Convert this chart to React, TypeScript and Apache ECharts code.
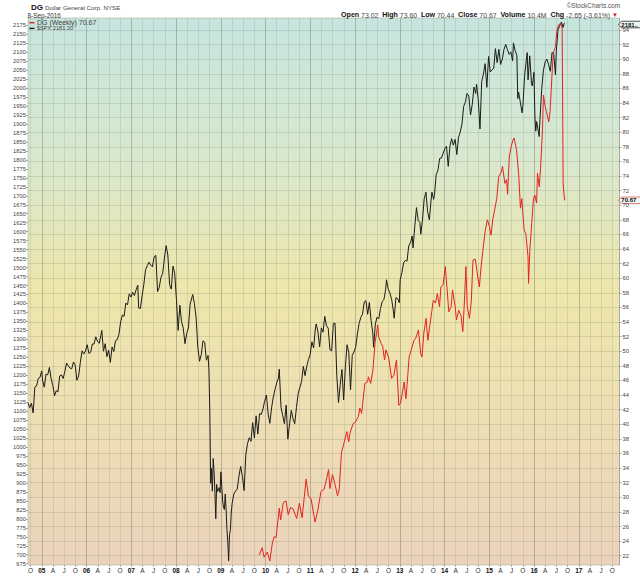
import React, { useEffect, useRef } from "react";
import * as echarts from "echarts";

const FONT = "'Liberation Sans', Arial, sans-serif";

// ---- S&P 500 weekly closes (left axis) ----
const spx2004: [string, number][] = [
  ["2004-09-10", 1123], ["2004-09-24", 1110], ["2004-10-08", 1122], ["2004-10-22", 1095], ["2004-11-05", 1167],
  ["2004-11-19", 1170], ["2004-12-03", 1191], ["2004-12-17", 1194], ["2004-12-31", 1212],
];
const spx2005: [string, number][] = [
  ["2005-01-07", 1186], ["2005-01-21", 1167], ["2005-02-04", 1203], ["2005-02-18", 1201], ["2005-03-04", 1222],
  ["2005-03-18", 1190], ["2005-04-01", 1172], ["2005-04-15", 1143], ["2005-04-29", 1157], ["2005-05-13", 1154],
  ["2005-05-27", 1198], ["2005-06-10", 1201], ["2005-06-24", 1191], ["2005-07-08", 1211], ["2005-07-22", 1234],
  ["2005-08-05", 1226], ["2005-08-19", 1220], ["2005-09-02", 1218], ["2005-09-16", 1237], ["2005-09-30", 1229],
  ["2005-10-14", 1186], ["2005-10-28", 1198], ["2005-11-11", 1235], ["2005-11-25", 1268], ["2005-12-09", 1259],
  ["2005-12-23", 1268],
];
const spx2006: [string, number][] = [
  ["2006-01-06", 1285], ["2006-01-20", 1261], ["2006-02-03", 1264], ["2006-02-17", 1287], ["2006-03-03", 1287],
  ["2006-03-17", 1307], ["2006-03-31", 1295], ["2006-04-14", 1289], ["2006-04-28", 1311], ["2006-05-05", 1325],
  ["2006-05-19", 1267], ["2006-06-02", 1288], ["2006-06-16", 1252], ["2006-06-30", 1270], ["2006-07-14", 1236],
  ["2006-07-28", 1279], ["2006-08-11", 1266], ["2006-08-25", 1296], ["2006-09-08", 1299], ["2006-09-22", 1314],
  ["2006-10-06", 1349], ["2006-10-20", 1368], ["2006-11-03", 1364], ["2006-11-17", 1401], ["2006-12-01", 1396],
  ["2006-12-15", 1427], ["2006-12-29", 1418],
];
const spx2007: [string, number][] = [
  ["2007-01-12", 1431], ["2007-01-26", 1422], ["2007-02-09", 1438], ["2007-02-23", 1451], ["2007-03-02", 1387],
  ["2007-03-16", 1386], ["2007-03-30", 1421], ["2007-04-13", 1453], ["2007-04-27", 1494], ["2007-05-11", 1505],
  ["2007-05-25", 1515], ["2007-06-08", 1507], ["2007-06-22", 1502], ["2007-07-06", 1530], ["2007-07-20", 1534],
  ["2007-08-03", 1433], ["2007-08-17", 1445], ["2007-08-31", 1473], ["2007-09-14", 1484], ["2007-09-28", 1527],
  ["2007-10-12", 1561], ["2007-10-26", 1535], ["2007-11-09", 1453], ["2007-11-23", 1440], ["2007-12-07", 1504],
  ["2007-12-21", 1484],
];
const spx2008: [string, number][] = [
  ["2008-01-04", 1411], ["2008-01-18", 1325], ["2008-02-01", 1395], ["2008-02-15", 1349], ["2008-02-29", 1331],
  ["2008-03-14", 1288], ["2008-03-28", 1316], ["2008-04-11", 1332], ["2008-04-25", 1398], ["2008-05-16", 1425],
  ["2008-05-30", 1400], ["2008-06-13", 1360], ["2008-06-27", 1278], ["2008-07-11", 1239], ["2008-07-25", 1257],
  ["2008-08-08", 1296], ["2008-08-22", 1292], ["2008-09-05", 1242], ["2008-09-19", 1255], ["2008-09-26", 1213],
  ["2008-10-03", 1099], ["2008-10-10", 899], ["2008-10-17", 940], ["2008-10-24", 877], ["2008-10-31", 968],
  ["2008-11-07", 930], ["2008-11-14", 873], ["2008-11-21", 800], ["2008-11-28", 896], ["2008-12-05", 876],
  ["2008-12-12", 879], ["2008-12-19", 887], ["2008-12-26", 873],
];
const spx2009: [string, number][] = [
  ["2009-01-02", 931], ["2009-01-09", 890], ["2009-01-16", 850], ["2009-01-23", 832], ["2009-01-30", 826],
  ["2009-02-06", 869], ["2009-02-13", 827], ["2009-02-20", 770], ["2009-02-27", 735], ["2009-03-06", 683],
  ["2009-03-13", 756], ["2009-03-20", 768], ["2009-03-27", 816], ["2009-04-03", 842], ["2009-04-17", 869],
  ["2009-05-01", 877], ["2009-05-15", 883], ["2009-05-29", 919], ["2009-06-12", 946], ["2009-06-26", 918],
  ["2009-07-10", 879], ["2009-07-24", 979], ["2009-08-07", 1010], ["2009-08-21", 1026], ["2009-09-04", 1016],
  ["2009-09-18", 1068], ["2009-10-02", 1025], ["2009-10-16", 1087], ["2009-10-30", 1036], ["2009-11-13", 1093],
  ["2009-11-27", 1091], ["2009-12-11", 1106], ["2009-12-24", 1127],
];
const spx2010: [string, number][] = [
  ["2010-01-08", 1145], ["2010-01-22", 1092], ["2010-02-05", 1066], ["2010-02-19", 1109], ["2010-03-05", 1139],
  ["2010-03-19", 1160], ["2010-04-02", 1179], ["2010-04-16", 1192], ["2010-04-23", 1217], ["2010-05-07", 1111],
  ["2010-05-21", 1088], ["2010-06-04", 1065], ["2010-06-18", 1117], ["2010-07-02", 1022], ["2010-07-16", 1065],
  ["2010-07-30", 1102], ["2010-08-13", 1079], ["2010-08-27", 1065], ["2010-09-10", 1110], ["2010-09-24", 1149],
  ["2010-10-08", 1166], ["2010-10-22", 1183], ["2010-11-05", 1225], ["2010-11-19", 1199], ["2010-12-03", 1225],
  ["2010-12-17", 1244], ["2010-12-31", 1258],
];
const spx2011: [string, number][] = [
  ["2011-01-14", 1293], ["2011-01-28", 1276], ["2011-02-11", 1329], ["2011-02-18", 1343], ["2011-03-04", 1321],
  ["2011-03-18", 1279], ["2011-04-01", 1332], ["2011-04-15", 1320], ["2011-04-29", 1364], ["2011-05-13", 1338],
  ["2011-05-27", 1331], ["2011-06-10", 1271], ["2011-06-24", 1268], ["2011-07-08", 1344], ["2011-07-22", 1345],
  ["2011-08-05", 1199], ["2011-08-19", 1124], ["2011-09-02", 1174], ["2011-09-16", 1216], ["2011-09-30", 1131],
  ["2011-10-14", 1224], ["2011-10-28", 1285], ["2011-11-11", 1263], ["2011-11-25", 1159], ["2011-12-09", 1255],
  ["2011-12-23", 1265],
];
const spx2012: [string, number][] = [
  ["2012-01-06", 1278], ["2012-01-20", 1315], ["2012-02-03", 1344], ["2012-02-17", 1361], ["2012-03-02", 1370],
  ["2012-03-16", 1404], ["2012-03-30", 1408], ["2012-04-13", 1370], ["2012-04-27", 1403], ["2012-05-11", 1353],
  ["2012-05-25", 1318], ["2012-06-01", 1278], ["2012-06-15", 1343], ["2012-06-29", 1362], ["2012-07-13", 1357],
  ["2012-07-27", 1386], ["2012-08-10", 1405], ["2012-08-24", 1411], ["2012-09-07", 1438], ["2012-09-14", 1466],
  ["2012-09-28", 1441], ["2012-10-12", 1429], ["2012-10-26", 1412], ["2012-11-09", 1380], ["2012-11-16", 1359],
  ["2012-11-30", 1416], ["2012-12-14", 1414], ["2012-12-28", 1402],
];
const spx2013: [string, number][] = [
  ["2013-01-04", 1466], ["2013-01-18", 1486], ["2013-02-01", 1513], ["2013-02-15", 1520], ["2013-03-01", 1518],
  ["2013-03-15", 1561], ["2013-03-29", 1569], ["2013-04-12", 1588], ["2013-04-19", 1555], ["2013-05-03", 1614],
  ["2013-05-17", 1667], ["2013-05-31", 1631], ["2013-06-14", 1626], ["2013-06-21", 1593], ["2013-07-05", 1632],
  ["2013-07-19", 1692], ["2013-08-02", 1710], ["2013-08-16", 1656], ["2013-08-30", 1633], ["2013-09-13", 1688],
  ["2013-09-20", 1710], ["2013-10-04", 1690], ["2013-10-11", 1703], ["2013-10-25", 1759], ["2013-11-08", 1771],
  ["2013-11-22", 1804], ["2013-12-06", 1805], ["2013-12-20", 1818],
];
const spx2014: [string, number][] = [
  ["2014-01-03", 1831], ["2014-01-17", 1838], ["2014-01-31", 1782], ["2014-02-14", 1838], ["2014-02-28", 1859],
  ["2014-03-14", 1841], ["2014-03-28", 1857], ["2014-04-11", 1815], ["2014-04-25", 1863], ["2014-05-09", 1878],
  ["2014-05-23", 1900], ["2014-06-06", 1949], ["2014-06-20", 1962], ["2014-07-03", 1985], ["2014-07-18", 1978],
  ["2014-08-01", 1925], ["2014-08-15", 1955], ["2014-08-29", 2003], ["2014-09-12", 1985], ["2014-09-19", 2011],
  ["2014-10-03", 1967], ["2014-10-17", 1886], ["2014-10-31", 2018], ["2014-11-14", 2039], ["2014-11-28", 2068],
  ["2014-12-12", 2002], ["2014-12-26", 2088],
];
const spx2015: [string, number][] = [
  ["2015-01-09", 2045], ["2015-01-23", 2051], ["2015-02-06", 2055], ["2015-02-20", 2110], ["2015-03-06", 2071],
  ["2015-03-20", 2108], ["2015-04-03", 2066], ["2015-04-17", 2081], ["2015-05-01", 2108], ["2015-05-15", 2122],
  ["2015-05-29", 2107], ["2015-06-12", 2094], ["2015-06-26", 2101], ["2015-07-10", 2076], ["2015-07-17", 2126],
  ["2015-07-31", 2104], ["2015-08-14", 2091], ["2015-08-21", 1971], ["2015-08-28", 1989], ["2015-09-11", 1961],
  ["2015-09-25", 1931], ["2015-10-02", 1951], ["2015-10-16", 2033], ["2015-10-30", 2079], ["2015-11-06", 2099],
  ["2015-11-13", 2023], ["2015-11-27", 2090], ["2015-12-11", 2012], ["2015-12-18", 2006], ["2015-12-31", 2044],
];
const spx2016: [string, number][] = [
  ["2016-01-08", 1922], ["2016-01-15", 1880], ["2016-01-22", 1907], ["2016-02-05", 1880], ["2016-02-12", 1865],
  ["2016-02-19", 1917], ["2016-03-04", 1999], ["2016-03-18", 2050], ["2016-04-01", 2073], ["2016-04-15", 2081],
  ["2016-04-29", 2065], ["2016-05-13", 2047], ["2016-05-27", 2099], ["2016-06-10", 2096], ["2016-06-24", 2037],
  ["2016-07-01", 2103], ["2016-07-15", 2162], ["2016-07-29", 2174], ["2016-08-12", 2184], ["2016-08-26", 2169],
  ["2016-09-02", 2180], ["2016-09-08", 2181.3],
];

// ---- Dollar General weekly closes (right axis) ----
const dg2009: [string, number][] = [["2009-11-10", 22.1], ["2009-12-05", 23.1], ["2009-12-20", 21.8]];
const dg2010: [string, number][] = [
  ["2010-01-15", 22.5], ["2010-02-05", 21.3], ["2010-02-27", 23.9], ["2010-03-14", 24.6], ["2010-03-28", 24.5],
  ["2010-04-23", 28.5], ["2010-05-04", 26.9], ["2010-05-26", 29.3], ["2010-06-17", 29.5], ["2010-07-05", 27.6],
  ["2010-07-23", 28.6], ["2010-08-14", 28.4], ["2010-09-12", 27.1], ["2010-10-04", 29.2], ["2010-10-26", 27.2],
  ["2010-11-28", 32.5], ["2010-12-16", 30.2],
];
const dg2011: [string, number][] = [
  ["2011-01-07", 29.8], ["2011-02-09", 26.6], ["2011-03-03", 28.2], ["2011-03-29", 30.8], ["2011-04-23", 31.1],
  ["2011-05-08", 32.1], ["2011-05-30", 33.8], ["2011-06-10", 31.2], ["2011-07-01", 33.1], ["2011-07-20", 31.9],
  ["2011-08-11", 30.2], ["2011-08-25", 31.1], ["2011-09-12", 36.1], ["2011-10-04", 37.5], ["2011-10-26", 39.0],
  ["2011-11-10", 37.6], ["2011-11-21", 38.8], ["2011-12-16", 40.1],
];
const dg2012: [string, number][] = [
  ["2012-01-04", 40.3], ["2012-01-29", 41.1], ["2012-02-09", 42.2], ["2012-02-24", 41.5], ["2012-03-21", 45.6],
  ["2012-04-12", 45.8], ["2012-04-19", 46.5], ["2012-05-08", 45.6], ["2012-05-26", 47.4], ["2012-06-13", 51.2],
  ["2012-07-05", 53.6], ["2012-07-12", 52.0], ["2012-07-31", 51.1], ["2012-08-14", 50.7], ["2012-08-29", 48.8],
  ["2012-09-09", 50.2], ["2012-10-01", 49.2], ["2012-10-26", 46.3], ["2012-11-13", 46.7], ["2012-12-05", 48.8],
  ["2012-12-24", 42.6],
];
const dg2013: [string, number][] = [
  ["2013-01-07", 42.9], ["2013-01-26", 44.7], ["2013-02-05", 45.8], ["2013-02-20", 43.5], ["2013-03-07", 46.7],
  ["2013-03-18", 49.2], ["2013-04-27", 51.5], ["2013-05-11", 51.8], ["2013-06-02", 52.9], ["2013-06-20", 49.7],
  ["2013-07-01", 49.2], ["2013-07-16", 52.5], ["2013-08-03", 54.5], ["2013-08-18", 51.5], ["2013-09-05", 53.8],
  ["2013-09-20", 55.6], ["2013-10-01", 57.0], ["2013-10-19", 56.6], ["2013-11-03", 57.9], ["2013-11-21", 56.1],
  ["2013-12-02", 58.8], ["2013-12-20", 59.1],
];
const dg2014: [string, number][] = [
  ["2014-01-07", 61.6], ["2014-01-22", 58.4], ["2014-02-05", 55.4], ["2014-02-24", 56.1], ["2014-03-07", 58.4],
  ["2014-03-29", 56.1], ["2014-04-08", 54.3], ["2014-04-27", 55.6], ["2014-05-15", 54.9], ["2014-05-30", 52.7],
  ["2014-06-10", 56.1], ["2014-06-24", 61.6], ["2014-07-05", 56.1], ["2014-07-23", 54.5], ["2014-08-07", 56.8],
  ["2014-08-21", 62.5], ["2014-09-09", 62.6], ["2014-09-23", 60.9], ["2014-10-12", 58.8], ["2014-10-26", 61.6],
  ["2014-11-13", 64.3], ["2014-11-28", 66.4], ["2014-12-16", 68.0],
];
const dg2015: [string, number][] = [
  ["2015-01-02", 67.1], ["2015-01-15", 65.9], ["2015-01-29", 68.0], ["2015-02-16", 69.6], ["2015-03-03", 70.9],
  ["2015-03-18", 73.9], ["2015-04-05", 74.4], ["2015-04-19", 75.3], ["2015-05-08", 73.0], ["2015-05-22", 73.5],
  ["2015-05-30", 71.5], ["2015-06-13", 76.6], ["2015-06-28", 78.0], ["2015-07-12", 78.9], ["2015-07-23", 79.2],
  ["2015-07-31", 78.5], ["2015-08-11", 77.6], ["2015-08-29", 74.1], ["2015-09-12", 69.6], ["2015-09-23", 70.9],
  ["2015-10-12", 66.6], ["2015-10-26", 66.1], ["2015-11-13", 62.9], ["2015-11-17", 59.3], ["2015-11-28", 63.9],
  ["2015-12-13", 67.5], ["2015-12-27", 70.9],
];
const dg2016: [string, number][] = [
  ["2016-01-07", 71.4], ["2016-01-22", 70.3], ["2016-01-29", 74.4], ["2016-02-13", 72.5], ["2016-02-24", 75.3],
  ["2016-03-10", 80.3], ["2016-03-18", 85.1], ["2016-04-01", 83.5], ["2016-04-12", 82.8], ["2016-04-30", 81.4],
  ["2016-05-11", 82.8], ["2016-05-26", 87.6], ["2016-06-06", 90.8], ["2016-06-24", 91.7], ["2016-07-05", 93.8],
  ["2016-07-20", 94.7], ["2016-08-07", 94.9], ["2016-08-18", 94.2], ["2016-08-26", 73.0], ["2016-09-02", 71.5],
  ["2016-09-08", 70.67],
];

// ---- axes ----
const leftTicks = [
  675, 700, 725, 750, 775, 800, 825, 850, 875, 900, 925, 950, 975, 1000, 1025, 1050, 1075, 1100, 1125, 1150,
  1175, 1200, 1225, 1250, 1275, 1300, 1325, 1350, 1375, 1400, 1425, 1450, 1475, 1500, 1525, 1550, 1575, 1600,
  1625, 1650, 1675, 1700, 1725, 1750, 1775, 1800, 1825, 1850, 1875, 1900, 1925, 1950, 1975, 2000, 2025, 2050,
  2075, 2100, 2125, 2150, 2175,
];
const rightTicks = [
  22, 24, 26, 28, 30, 32, 34, 36, 38, 40, 42, 44, 46, 48, 50, 52, 54, 56, 58, 60, 62, 64, 66, 68, 70, 72, 74,
  76, 78, 80, 82, 84, 86, 88, 90, 92, 94,
];
const yearLabels = ["05", "06", "07", "08", "09", "10", "11", "12", "13", "14", "15", "16", "17"];
const quarterLabels = ["A", "J", "O"];
const xStart = "2004-09-10";
const xEnd = "2017-11-29";
const leftRange = [671.4, 2195.3];
const rightRange = [20.73, 95.64];

const header = { open: "73.02", high: "73.60", low: "70.44", close: "70.67", volume: "10.4M", chg: "-2.65 (-3.61%)" };

const toYear = (s: string) => {
  const [y, m, d] = s.split("-").map(Number);
  const a = Date.UTC(y, 0, 1);
  const b = Date.UTC(y + 1, 0, 1);
  return y + (Date.UTC(y, m - 1, d) - a) / (b - a);
};

const spx = [spx2004, spx2005, spx2006, spx2007, spx2008, spx2009, spx2010, spx2011, spx2012, spx2013, spx2014, spx2015, spx2016].flat();
const dg = [dg2009, dg2010, dg2011, dg2012, dg2013, dg2014, dg2015, dg2016].flat();

const quarterTicks: number[] = [2004.75];
yearLabels.forEach((l) => {
  const y = 2000 + Number(l);
  quarterTicks.push(y, y + 0.25, y + 0.5, y + 0.75);
});

export default function App() {
  const ref = useRef<HTMLDivElement>(null);
  useEffect(() => {
    if (!ref.current) return;
    const chart = echarts.init(ref.current, undefined, { renderer: "svg" });
    const lastSpx = spx[spx.length - 1][1];
    const lastDg = dg[dg.length - 1][1];
    chart.setOption({
      animation: false,
      textStyle: { fontFamily: FONT },
      grid: {
        left: 28,
        right: 20.5,
        top: 18,
        bottom: 11,
        show: true,
        borderColor: "#a9b0a0",
        borderWidth: 0.6,
        backgroundColor: {
          type: "linear",
          x: 0, y: 0, x2: 0, y2: 1,
          colorStops: [
            { offset: 0, color: "#c6e5df" },
            { offset: 0.25, color: "#d8e8cf" },
            { offset: 0.5, color: "#eee6ab" },
            { offset: 0.72, color: "#eedfb4" },
            { offset: 1, color: "#ebd3bc" },
          ],
        },
      },
      xAxis: {
        type: "value",
        min: toYear(xStart),
        max: toYear(xEnd),
        axisLine: { show: false },
        axisTick: { show: true, customValues: quarterTicks, length: 2, lineStyle: { color: "#888", width: 0.6 } },
        axisLabel: {
          customValues: quarterTicks,
          fontSize: 6.5,
          color: "#333",
          margin: 2,
          formatter: (v: number) => {
            const y = Math.floor(v + 1e-6);
            const f = Math.round((v - y) * 4);
            if (f === 0) return `{b|${String(y % 100).padStart(2, "0")}}`;
            return quarterLabels[f - 1];
          },
          rich: { b: { fontWeight: "bold", fontSize: 6.5, color: "#111", fontFamily: FONT } },
        },
        splitLine: {
          show: true,
          lineStyle: {
            width: 0.7,
            color: ["rgba(120,130,110,0.28)", "rgba(95,105,85,0.55)", "rgba(120,130,110,0.28)", "rgba(120,130,110,0.28)"],
          },
        },
      },
      yAxis: [
        {
          type: "value",
          position: "left",
          min: leftRange[0],
          max: leftRange[1],
          axisLine: { show: false },
          axisTick: { show: true, customValues: leftTicks, length: 2, lineStyle: { color: "#777", width: 0.6 } },
          axisLabel: { customValues: leftTicks, fontSize: 5.8, color: "#444", margin: 2, formatter: (v: number) => String(v) },
          splitLine: { show: false },
        },
        {
          type: "value",
          position: "right",
          min: rightRange[0],
          max: rightRange[1],
          axisLine: { show: true, lineStyle: { color: "#999", width: 0.7, type: "dotted" } },
          axisTick: { show: true, customValues: rightTicks, length: 2, lineStyle: { color: "#777", width: 0.6 } },
          axisLabel: { customValues: rightTicks, fontSize: 5.8, color: "#444", margin: 3, formatter: (v: number) => String(v) },
          splitLine: { show: true, lineStyle: { color: "rgba(110,120,100,0.3)", width: 0.7 } },
        },
      ],
      series: [
        {
          name: "$SPX",
          type: "line",
          yAxisIndex: 0,
          data: spx.map(([d, v]) => [toYear(d), v]),
          showSymbol: false,
          symbol: "none",
          lineStyle: { color: "#1b1b1b", width: 1 },
          z: 3,
        },
        {
          name: "DG",
          type: "line",
          yAxisIndex: 1,
          data: dg.map(([d, v]) => [toYear(d), v]),
          showSymbol: false,
          symbol: "none",
          lineStyle: { color: "#e3231f", width: 1 },
          z: 4,
        },
      ],
    });

    const yS = chart.convertToPixel({ yAxisIndex: 0 }, lastSpx) as number;
    const yD = chart.convertToPixel({ yAxisIndex: 1 }, lastDg) as number;
    const tag = (y: number, text: string, stroke: string) => ({
      type: "group",
      children: [
        {
          type: "polygon",
          shape: { points: [[618.5, y], [621.5, y - 3.3], [641, y - 3.3], [641, y + 3.3], [621.5, y + 3.3]] },
          style: { fill: "#eef6f4", stroke, lineWidth: 0.8 },
        },
        {
          type: "text",
          x: 621.3,
          y,
          style: { text, font: `bold 6px ${FONT}`, fill: "#111", verticalAlign: "middle" },
        },
      ],
    });

    chart.setOption({
      graphic: [
        { type: "text", x: 31, y: 3.5, style: { text: "DG", font: `bold 8px ${FONT}`, fill: "#111" } },
        { type: "text", x: 45, y: 4.8, style: { text: "Dollar General Corp. NYSE", font: `6.2px ${FONT}`, fill: "#444" } },
        { type: "text", x: 27.5, y: 12, style: { text: "8-Sep-2016", font: `6.4px ${FONT}`, fill: "#333" } },
        { type: "text", x: 620, y: 2, style: { text: "©StockCharts.com", font: `6.4px ${FONT}`, fill: "#555", align: "right" } },
        {
          type: "text",
          x: 618,
          y: 11.8,
          style: {
            text: `{b|Open} ${header.open}  {b|High} ${header.high}  {b|Low} ${header.low}  {b|Close} ${header.close}  {b|Volume} ${header.volume}  {b|Chg} ${header.chg} {r|▼}`,
            font: `6.9px ${FONT}`,
            fill: "#444",
            align: "right",
            rich: {
              b: { fontWeight: "bold", fontSize: 7.1, fill: "#111", fontFamily: FONT },
              r: { fontSize: 6, fill: "#d0201a", fontFamily: FONT },
            },
          },
        },
        { type: "line", shape: { x1: 29.3, y1: 22.7, x2: 34.5, y2: 22.7 }, style: { stroke: "#e3231f", lineWidth: 1.4 } },
        {
          type: "text",
          x: 37,
          y: 22.7,
          style: { text: `DG (Weekly) ${lastDg.toFixed(2)}`, font: `7px ${FONT}`, fill: "#444", verticalAlign: "middle" },
        },
        { type: "line", shape: { x1: 29.3, y1: 28.4, x2: 34.5, y2: 28.4 }, style: { stroke: "#1b1b1b", lineWidth: 1.4 } },
        {
          type: "text",
          x: 37,
          y: 28.4,
          style: { text: `$SPX ${lastSpx.toFixed(2)}`, font: `5.6px ${FONT}`, fill: "#444", verticalAlign: "middle" },
        },
        tag(yS + 1.5, "2181..", "#222"),
        tag(yD, lastDg.toFixed(2), "#e05a50"),
      ],
    });
    return () => chart.dispose();
  }, []);
  return <div ref={ref} style={{ position: "absolute", left: 0, top: 0, width: 640, height: 576 }} />;
}
